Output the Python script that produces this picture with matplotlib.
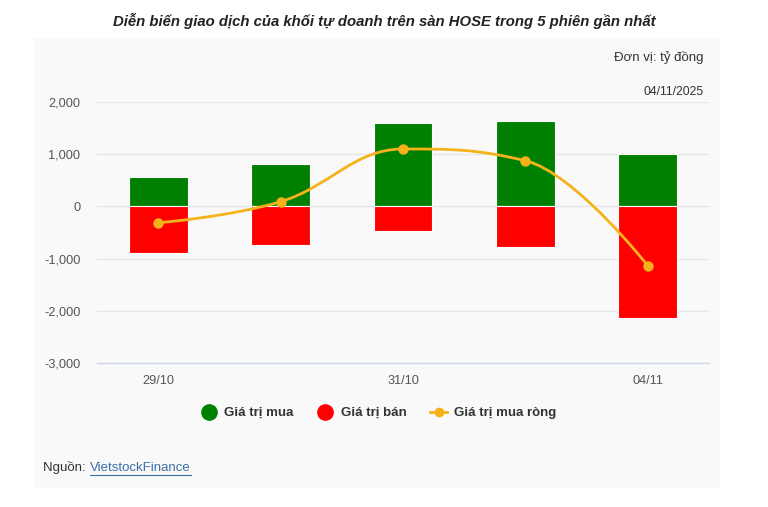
import numpy as np
import matplotlib.pyplot as plt
from matplotlib.path import Path
from matplotlib.patches import PathPatch, Rectangle
from matplotlib.lines import Line2D
import matplotlib.ticker as mticker

plt.rcParams['font.family'] = ['Liberation Sans', 'DejaVu Sans']

dates = ['29/10', '30/10', '31/10', '03/11', '04/11']
tick_labels = ['29/10', '', '31/10', '', '04/11']
buy = [565, 820, 1590, 1645, 1010]
sell = [-885, -735, -480, -775, -2140]
net = [-315, 90, 1100, 875, -1135]

GREEN = '#008000'
RED = '#ff0000'
ORANGE = '#f5b21b'


def spline_path(xs, ys, smoothing=1.5):
    # highcharts-style spline: cubic bezier segments
    n = len(xs)
    verts = [(xs[0], ys[0])]
    codes = [Path.MOVETO]
    prev_right = (xs[0], ys[0])
    for i in range(1, n):
        x, y = xs[i], ys[i]
        if i < n - 1:
            lx, ly = xs[i - 1], ys[i - 1]
            nx, ny = xs[i + 1], ys[i + 1]
            d = smoothing + 1
            lcx = (smoothing * x + lx) / d
            lcy = (smoothing * y + ly) / d
            rcx = (smoothing * x + nx) / d
            rcy = (smoothing * y + ny) / d
            if rcx != lcx:
                corr = (rcy - lcy) * (rcx - x) / (rcx - lcx) + y - rcy
                lcy += corr
                rcy += corr
            if lcy > max(ly, y):
                lcy = max(ly, y)
                rcy = 2 * y - lcy
            elif lcy < min(ly, y):
                lcy = min(ly, y)
                rcy = 2 * y - lcy
            if rcy > max(y, ny):
                rcy = max(y, ny)
                lcy = 2 * y - rcy
            elif rcy < min(y, ny):
                rcy = min(y, ny)
                lcy = 2 * y - rcy
            left = (lcx, lcy)
            right = (rcx, rcy)
        else:
            left = (x, y)
            right = (x, y)
        verts += [prev_right, left, (x, y)]
        codes += [Path.CURVE4] * 3
        prev_right = right
    return Path(verts, codes)


fig = plt.figure(figsize=(7.68, 5.07), dpi=100)
W, H = 768, 507

# panel background
fig.patches.append(Rectangle((34 / W, 1 - 488 / H), 686 / W, 450 / H,
                             transform=fig.transFigure, facecolor='#f9f9f9',
                             edgecolor='none', zorder=-5))

ax = fig.add_axes([97 / W, 1 - 363 / H, 612 / W, 261 / H])
ax.set_facecolor('none')

x = np.arange(len(dates))
ax.bar(x, buy, width=0.48, color=GREEN, edgecolor='white', linewidth=0.8, zorder=3)
ax.bar(x, sell, width=0.48, color=RED, edgecolor='white', linewidth=0.8, zorder=3)

ax.add_patch(PathPatch(spline_path(list(x), net), facecolor='none',
                       edgecolor=ORANGE, linewidth=2, zorder=4))
ax.plot(x, net, 'o', color=ORANGE, markersize=6.5, zorder=5)

ax.set_xlim(-0.5, 4.5)
ax.set_ylim(-3000, 2000)
ax.set_yticks([-3000, -2000, -1000, 0, 1000, 2000])
ax.yaxis.set_major_formatter(mticker.FuncFormatter(lambda v, p: f'{int(v):,}'))
ax.set_xticks(x)
ax.set_xticklabels(tick_labels)
ax.grid(axis='y', color='#e6e6e6', linewidth=1, zorder=0)
ax.tick_params(axis='y', length=0, pad=12, labelsize=9.2, labelcolor='#555555')
ax.tick_params(axis='x', length=0, pad=9, labelsize=9.2, labelcolor='#555555')
for s in ['top', 'right', 'left']:
    ax.spines[s].set_visible(False)
ax.spines['bottom'].set_color('#ccd6eb')
ax.spines['bottom'].set_linewidth(1)

fig.text(384 / W, 1 - 21 / H, 'Diễn biến giao dịch của khối tự doanh trên sàn HOSE trong 5 phiên gần nhất',
         ha='center', va='center', fontsize=10.7, fontweight='bold', fontstyle='italic', color='#222222')
fig.text(704 / W, 1 - 58 / H, 'Đơn vị: tỷ đồng', ha='right', va='center', fontsize=9.5, color='#333333')
fig.text(704 / W, 1 - 92 / H, '04/11/2025', ha='right', va='center', fontsize=8.8, color='#333333')

handles = [
    Line2D([], [], linestyle='none', marker='o', markersize=11, color=GREEN),
    Line2D([], [], linestyle='none', marker='o', markersize=11, color=RED),
    Line2D([], [], color=ORANGE, linewidth=2, marker='o', markersize=6),
]
leg = fig.legend(handles, ['Giá trị mua', 'Giá trị bán', 'Giá trị mua ròng'],
                 loc='center', bbox_to_anchor=(378 / W, 1 - 413 / H), ncol=3,
                 frameon=False, handlelength=1.3, handletextpad=0.5, columnspacing=1.8,
                 prop={'weight': 'bold', 'size': 9.5})
for t in leg.get_texts():
    t.set_color('#333333')

fig.text(43 / W, 1 - 468 / H, 'Nguồn: ', ha='left', va='center', fontsize=9.5, color='#333333')
fig.text(90 / W, 1 - 468 / H, 'VietstockFinance', ha='left', va='center', fontsize=9.5,
         color='#3d6fa8', url='https://finance.vietstock.vn')
fig.add_artist(Line2D([90 / W, 191 / W], [1 - 475 / H, 1 - 475 / H], color='#3d6fa8', linewidth=0.8))

fig.savefig('out.png', dpi=100)
